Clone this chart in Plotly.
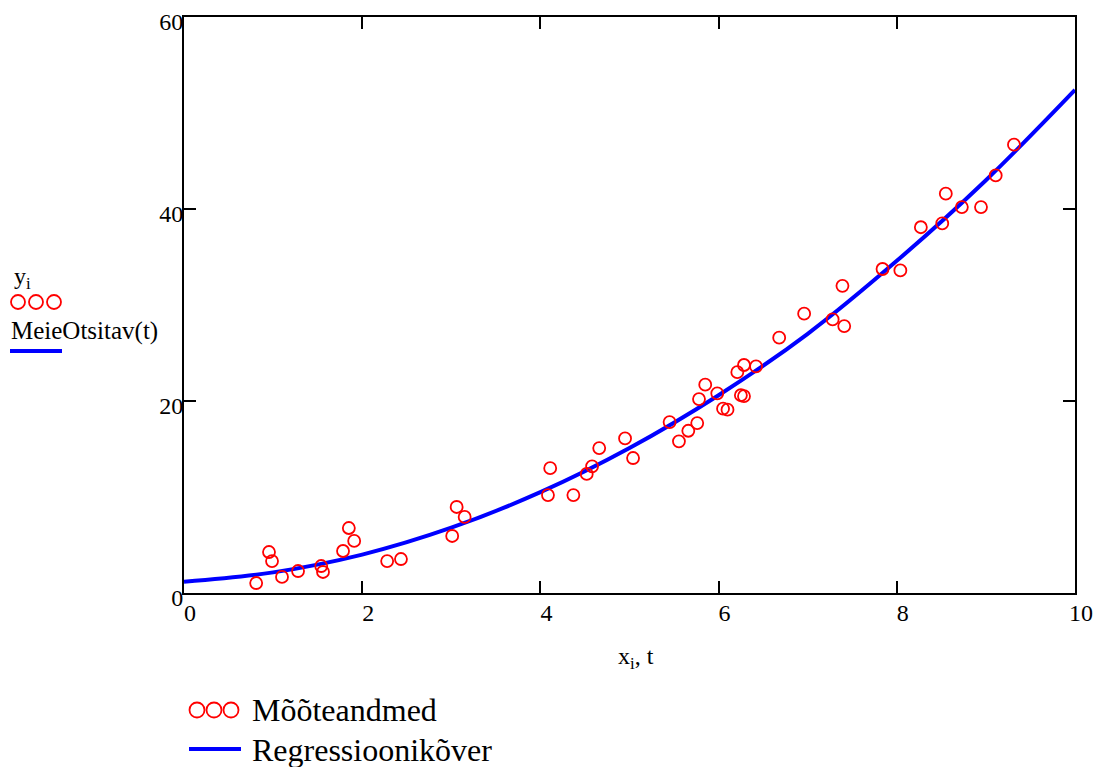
import plotly.graph_objects as go

# Measured data (Mõõteandmed)
x_data = [0.81, 0.954, 0.988, 1.10, 1.28, 1.54, 1.56, 1.785, 1.85, 1.91,
          2.28, 2.435, 3.01, 3.06, 3.15, 4.085, 4.11, 4.37, 4.52, 4.58,
          4.66, 4.95, 5.04, 5.45, 5.555, 5.66, 5.76, 5.78, 5.85, 5.985,
          6.05, 6.10, 6.21, 6.25, 6.285, 6.285, 6.42, 6.68, 6.96, 7.28,
          7.39, 7.41, 7.84, 8.04, 8.27, 8.51, 8.55, 8.73, 8.945, 9.11, 9.315]
y_data = [1.04, 4.27, 3.33, 1.67, 2.29, 2.81, 2.19, 4.375, 6.77, 5.42,
          3.33, 3.54, 5.94, 8.96, 7.92, 10.2, 13.0, 10.2, 12.4, 13.2,
          15.1, 16.1, 14.06, 17.8, 15.8, 16.9, 17.7, 20.2, 21.7, 20.8,
          19.2, 19.1, 23.0, 20.6, 20.5, 23.75, 23.6, 26.6, 29.1, 28.5,
          32.0, 27.8, 33.75, 33.6, 38.1, 38.5, 41.6, 40.2, 40.2, 43.5, 46.7]

# Regression curve (Regressioonikõver) read at t = 0..10
t_curve = [0, 1, 2, 3, 4, 5, 6, 7, 8, 9, 10]
y_curve = [1.18, 2.15, 4.0, 6.8, 10.5, 15.1, 20.6, 27.0, 34.6, 43.0, 52.4]

x_ticks = [0, 2, 4, 6, 8, 10]
y_ticks = [0, 20, 40, 60]

FONT = "Liberation Serif, Times New Roman, serif"
W, H = 1100, 767
L, R, T, B = 184, 25, 17, 174
PW, PH = W - L - R, H - T - B


def px(x):
    return (x - L) / PW


def py(y):
    return (H - B - y) / PH


fig = go.Figure()
fig.add_trace(go.Scatter(
    x=t_curve, y=y_curve, mode="lines",
    line=dict(color="#0000FF", width=4, shape="spline", smoothing=1.0),
    showlegend=False, hoverinfo="skip"))
fig.add_trace(go.Scatter(
    x=x_data, y=y_data, mode="markers",
    marker=dict(symbol="circle-open", size=12, color="#FF0000",
                line=dict(color="#FF0000", width=1.8)),
    showlegend=False))

axis_common = dict(showgrid=False, zeroline=False, showline=True,
                   linecolor="black", linewidth=2, mirror="ticks",
                   ticks="inside", ticklen=12, tickwidth=2, tickcolor="black",
                   automargin=False,
                   tickfont=dict(family=FONT, size=24, color="black"))

fig.update_xaxes(range=[0, 10], tickvals=x_ticks,
                 ticktext=[str(v) for v in x_ticks],
                 ticklabelshift=6, ticklabelstandoff=-3, **axis_common)
fig.update_yaxes(range=[0, 60], tickvals=y_ticks,
                 ticktext=[str(v) for v in y_ticks],
                 ticklabelshift=5, ticklabelstandoff=-6, **axis_common)

shapes = []
annotations = []


def circle(cx, cy, d, color="#FF0000", w=1.8):
    shapes.append(dict(type="circle", xref="paper", yref="paper",
                       x0=px(cx - d / 2), x1=px(cx + d / 2),
                       y0=py(cy + d / 2), y1=py(cy - d / 2),
                       line=dict(color=color, width=w)))


def hline(x0, x1, y, color="#0000FF", w=4):
    shapes.append(dict(type="line", xref="paper", yref="paper",
                       x0=px(x0), x1=px(x1), y0=py(y), y1=py(y),
                       line=dict(color=color, width=w)))


def text(s, x, y, size, xanchor="left"):
    annotations.append(dict(text=s, xref="paper", yref="paper",
                            x=px(x), y=py(y), xanchor=xanchor, yanchor="middle",
                            showarrow=False,
                            font=dict(family=FONT, size=size, color="black")))


# Left-side axis label block
text("y<sub>i</sub>", 12, 278, 24)
for cx in (18, 36, 54):
    circle(cx, 302, 14)
text("MeieOtsitav(t)", 9, 331, 25)
hline(10, 62, 351)

# x-axis label
text("x<sub>i</sub>, t", 636, 658, 24, xanchor="center")

# Bottom legend
for cx in (197, 214, 231):
    circle(cx, 710, 15)
text("Mõõteandmed", 250, 710, 32)
hline(189, 241, 749)
text("Regressioonikõver", 250, 750, 32)

fig.update_layout(template="none", width=W, height=H,
                  margin=dict(l=L, r=R, t=T, b=B, pad=0),
                  plot_bgcolor="white", paper_bgcolor="white",
                  shapes=shapes, annotations=annotations,
                  showlegend=False)

fig.write_html("out.html", config={"displayModeBar": False},
               post_script="document.body.style.margin='0';")
